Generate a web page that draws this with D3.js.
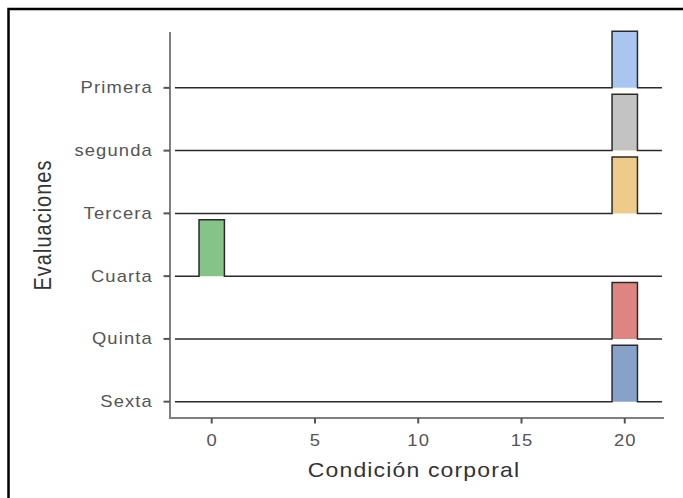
<!DOCTYPE html>
<html><head><meta charset="utf-8">
<script src="https://cdn.jsdelivr.net/npm/d3@7"></script>
<style>body{margin:0;background:#fff;} svg{display:block;}</style>
</head><body>
<svg id="c" width="683" height="498"></svg>
<script>
const categories = ["Primera","segunda","Tercera","Cuarta","Quinta","Sexta"];
const values = [20, 20, 20, 0, 20, 20];
const colors = ["#a8c6ef","#c3c3c3","#efcb8b","#85c388","#df8581","#87a2c8"];
const xTicks = [0, 5, 10, 15, 20];
const binWidth = 1.23;
const ridgeRange = [-1.78, 21.8];
const heightFrac = 0.9;
const xTitle = "Condición corporal";
const yTitle = "Evaluaciones";

const svg = d3.select("#c");
const SX = 1.15; // horizontal stretch of text

// outer frame
svg.append("rect").attr("x",8.5).attr("y",9).attr("width",700).attr("height",520)
  .attr("fill","none").attr("stroke","#000").attr("stroke-width",2.5);

const x = d3.scaleLinear().domain([-2.02, 21.9]).range([170, 664]);
const n = categories.length;
// index 0 = bottom (Sexta)
const y = d3.scaleLinear().domain([-0.26, 5.89]).range([418, 32]);
const idx = c => n - 1 - categories.indexOf(c);

const g = svg.append("g");

// ridges (top to bottom)
categories.forEach((c, i) => {
  const v = values[i];
  const yi = idx(c);
  const x0 = v - binWidth/2, x1 = v + binWidth/2;
  const pts = [[ridgeRange[0],0],[x0,0],[x0,heightFrac],[x1,heightFrac],[x1,0],[ridgeRange[1],0]];
  const line = d3.line().x(d=>x(d[0])).y(d=>y(yi + d[1]));
  g.append("path")
    .attr("d", line([[x0,0],[x0,heightFrac],[x1,heightFrac],[x1,0]]) + "Z")
    .attr("fill", colors[i]).attr("stroke","none");
  g.append("path").attr("d", line(pts))
    .attr("fill","none").attr("stroke","#2a2a2a").attr("stroke-width",1.5);
});

// axes
const axCol = "#7f7f7f";
svg.append("line").attr("x1",x.range()[0]).attr("x2",x.range()[1])
  .attr("y1",y.range()[0]).attr("y2",y.range()[0]).attr("stroke",axCol).attr("stroke-width",2);
svg.append("line").attr("x1",x.range()[0]).attr("x2",x.range()[0])
  .attr("y1",y.range()[0]+1).attr("y2",y.range()[1]).attr("stroke",axCol).attr("stroke-width",2);

const font = "'Liberation Sans', Arial, sans-serif";
// x ticks
xTicks.forEach(t => {
  svg.append("line").attr("x1",x(t)).attr("x2",x(t)).attr("y1",418).attr("y2",423.5)
    .attr("stroke","#555").attr("stroke-width",2);
  svg.append("text").attr("transform",`translate(${x(t)+0.5},446) scale(${SX},1)`)
    .attr("text-anchor","middle").attr("font-family",font).attr("font-size",16)
    .attr("letter-spacing",1).attr("fill","#555").text(t);
});
// y ticks
categories.forEach(c => {
  const yy = y(idx(c));
  svg.append("line").attr("x1",163.5).attr("x2",170).attr("y1",yy).attr("y2",yy)
    .attr("stroke","#555").attr("stroke-width",2);
  svg.append("text").attr("transform",`translate(153,${yy+5.5}) scale(${SX},1)`)
    .attr("text-anchor","end").attr("font-family",font).attr("font-size",16)
    .attr("letter-spacing",1).attr("fill","#555").text(c);
});
// titles
svg.append("text").attr("transform",`translate(414,477) scale(${SX},1)`)
  .attr("text-anchor","middle").attr("font-family",font).attr("font-size",20)
  .attr("letter-spacing",1).attr("fill","#333").text(xTitle);
svg.append("text").attr("transform",`translate(51,${(y.range()[0]+y.range()[1])/2}) scale(${SX},1) rotate(-90)`)
  .attr("text-anchor","middle").attr("font-family",font).attr("font-size",20)
  .attr("letter-spacing",1).attr("fill","#333").text(yTitle);
</script>
</body></html>
